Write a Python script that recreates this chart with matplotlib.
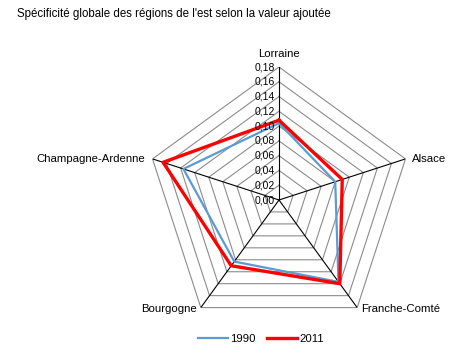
import numpy as np
import matplotlib
matplotlib.use("Agg")
import matplotlib.pyplot as plt

plt.rcParams['font.family'] = ['Liberation Sans', 'DejaVu Sans']

categories = ["Lorraine", "Alsace", "Franche-Comté", "Bourgogne", "Champagne-Ardenne"]
v1990 = [0.104, 0.080, 0.137, 0.103, 0.136]
v2011 = [0.108, 0.090, 0.140, 0.110, 0.165]
ticks = [0.00, 0.02, 0.04, 0.06, 0.08, 0.10, 0.12, 0.14, 0.16, 0.18]
tick_labels = ["0,00", "0,02", "0,04", "0,06", "0,08", "0,10", "0,12", "0,14", "0,16", "0,18"]
title = "Spécificité globale des régions de l'est selon la valeur ajoutée"

W, H = 476, 362
fig = plt.figure(figsize=(W / 100, H / 100), dpi=100)
cx, cy, R = 279, 200, 133
ax = fig.add_axes([(cx - R) / W, (H - cy - R) / H, 2 * R / W, 2 * R / H], projection='polar')
ax.set_theta_offset(np.pi / 2)
ax.set_theta_direction(-1)
ax.set_ylim(0, 0.18)
ax.grid(False)
ax.spines['polar'].set_visible(False)
ax.set_xticks([])
ax.set_yticks([])
ax.patch.set_alpha(0)

n = len(categories)
angles = np.arange(n) * 2 * np.pi / n
closed = np.append(angles, angles[0])

# grid pentagons
for t in ticks[1:]:
    ax.plot(closed, [t] * (n + 1), color='#8c8c8c', lw=0.8, zorder=1)
# spokes
for a in angles:
    ax.plot([a, a], [0, 0.18], color='black', lw=0.8, zorder=2)

ax.plot(closed, v1990 + v1990[:1], color='#5b9bd5', lw=1.6, zorder=3, label='1990')
ax.plot(closed, v2011 + v2011[:1], color='#ff0000', lw=2.4, zorder=4, label='2011')

# tick labels along Lorraine axis
for t, lab in zip(ticks, tick_labels):
    ax.annotate(lab, xy=(0, t), xytext=(-3, 0), textcoords='offset points',
                ha='right', va='center', fontsize=7.5, zorder=5)

# category labels
aligns = [('center', 'bottom'), ('left', 'center'), ('left', 'center'),
          ('right', 'center'), ('right', 'center')]
pads = [(0, 6), (5, 0), (3, -1), (-3, -1), (-5, 0)]
for a, c, (px, py), (ha, va) in zip(angles, categories, pads, aligns):
    ax.annotate(c, xy=(a, 0.18), xytext=(px, py), textcoords='offset points',
                ha=ha, va=va, fontsize=8.2)

fig.text(17 / W, 1 - 14 / H, title, ha='left', va='center', fontsize=8.3)

fig.legend(loc='center', bbox_to_anchor=(261 / W, 1 - 339 / H), ncol=2, frameon=False,
           fontsize=8.2, handlelength=2.6, columnspacing=1.0, handletextpad=0.2)

fig.savefig("out.png", dpi=100)
